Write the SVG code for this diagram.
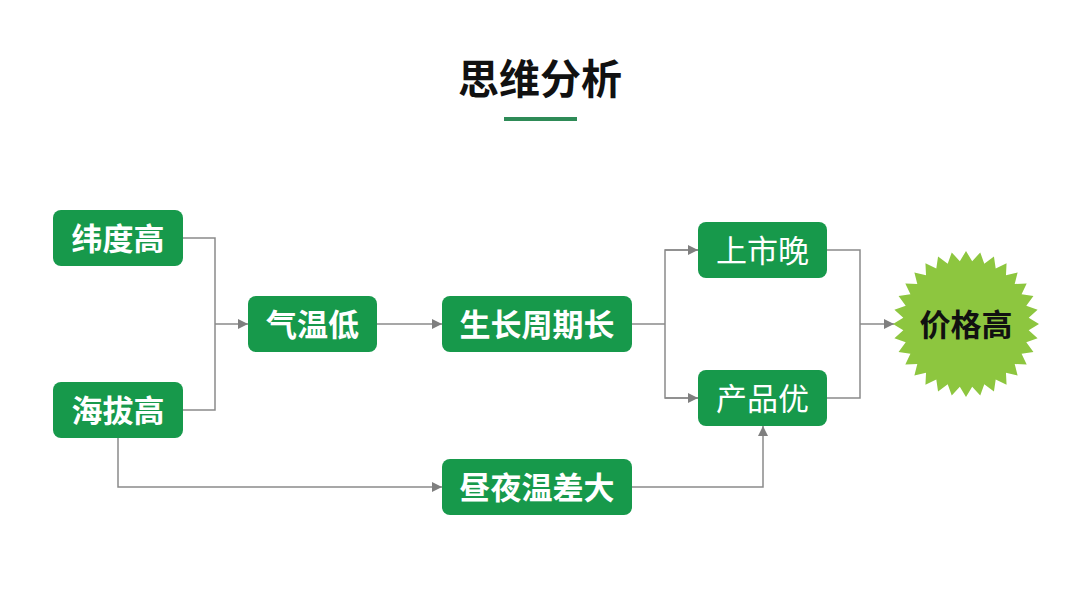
<svg xmlns="http://www.w3.org/2000/svg" width="1080" height="608" viewBox="0 0 1080 608">
<defs>
<style>
.node{fill:#17994b;}
.t{font-family:"Noto Sans CJK SC","Noto Sans",sans-serif;font-size:31px;fill:#ffffff;text-anchor:middle;dominant-baseline:central;}
.b{font-weight:bold;}
.r{font-weight:normal;}
.c{fill:none;stroke:#8a8a8a;stroke-width:1.5;}
</style>
<marker id="ah" markerWidth="10" markerHeight="10" refX="10" refY="5" orient="auto" markerUnits="userSpaceOnUse">
<path d="M0,0 L10,5 L0,10 Z" fill="#7f7f7f"/>
</marker>
</defs>
<rect width="1080" height="608" fill="#ffffff"/>
<g id="title">
<text x="540" y="76" font-family="'Noto Sans CJK SC','Noto Sans',sans-serif" font-size="41" font-weight="bold" fill="#111111" text-anchor="middle" dominant-baseline="central">思维分析</text>
<rect x="504" y="117" width="73" height="4" fill="#2e8b57"/>
</g>
<g id="connectors">
<polyline class="c" points="183,238 215,238 215,410 183,410"/>
<line class="c" x1="215" y1="324" x2="248" y2="324" marker-end="url(#ah)"/>
<line class="c" x1="377" y1="324" x2="442" y2="324" marker-end="url(#ah)"/>
<polyline class="c" points="632,324 665,324"/>
<polyline class="c" points="698,250 665,250 665,398 698,398"/>
<line class="c" x1="665" y1="250" x2="698" y2="250" marker-end="url(#ah)"/>
<line class="c" x1="665" y1="398" x2="698" y2="398" marker-end="url(#ah)"/>
<polyline class="c" points="827,250 860,250 860,398 827,398"/>
<line class="c" x1="860" y1="324" x2="894" y2="324" marker-end="url(#ah)"/>
<polyline class="c" points="118,438 118,487 442,487" marker-end="url(#ah)"/>
<polyline class="c" points="632,487 763,487 763,426" marker-end="url(#ah)"/>
</g>
<g id="n1"><rect class="node" x="53" y="210" width="130" height="56" rx="8"/><text class="t b" x="118" y="236">纬度高</text></g>
<g id="n2"><rect class="node" x="53" y="382" width="130" height="56" rx="8"/><text class="t b" x="118" y="408">海拔高</text></g>
<g id="n3"><rect class="node" x="248" y="296" width="129" height="56" rx="8"/><text class="t b" x="312.5" y="322">气温低</text></g>
<g id="n4"><rect class="node" x="442" y="296" width="190" height="56" rx="8"/><text class="t b" x="537" y="322">生长周期长</text></g>
<g id="n5"><rect class="node" x="698" y="222" width="129" height="56" rx="8"/><text class="t r" x="762.5" y="248">上市晚</text></g>
<g id="n6"><rect class="node" x="698" y="370" width="129" height="56" rx="8"/><text class="t r" x="762.5" y="396">产品优</text></g>
<g id="n7"><rect class="node" x="442" y="459" width="190" height="56" rx="8"/><text class="t b" x="537" y="485">昼夜温差大</text></g>
<g id="n8">
<polygon fill="#8dc63f" points="1039,324 1028.7,330.18 1037.6,338.24 1026.29,342.29 1033.44,351.94 1021.56,353.70 1026.70,364.56 1014.70,363.97 1017.62,375.62 1005.97,372.70 1006.56,384.70 995.70,379.56 993.94,391.44 984.29,384.29 980.24,395.60 972.18,386.70 966,397 959.82,386.70 951.76,395.60 947.71,384.29 938.06,391.44 936.30,379.56 925.44,384.70 926.03,372.70 914.38,375.62 917.30,363.97 905.30,364.56 910.44,353.70 898.56,351.94 905.71,342.29 894.40,338.24 903.30,330.18 893,324 903.30,317.82 894.40,309.76 905.71,305.71 898.56,296.06 910.44,294.30 905.30,283.44 917.30,284.03 914.38,272.38 926.03,275.30 925.44,263.30 936.30,268.44 938.06,256.56 947.71,263.71 951.76,252.40 959.82,261.30 966,251 972.18,261.30 980.24,252.40 984.29,263.71 993.94,256.56 995.70,268.44 1006.56,263.30 1005.97,275.30 1017.62,272.38 1014.70,284.03 1026.70,283.44 1021.56,294.30 1033.44,296.06 1026.29,305.71 1037.6,309.76 1028.7,317.82"/>
<text class="t b" x="966" y="322" style="fill:#111111">价格高</text>
</g>
</svg>
